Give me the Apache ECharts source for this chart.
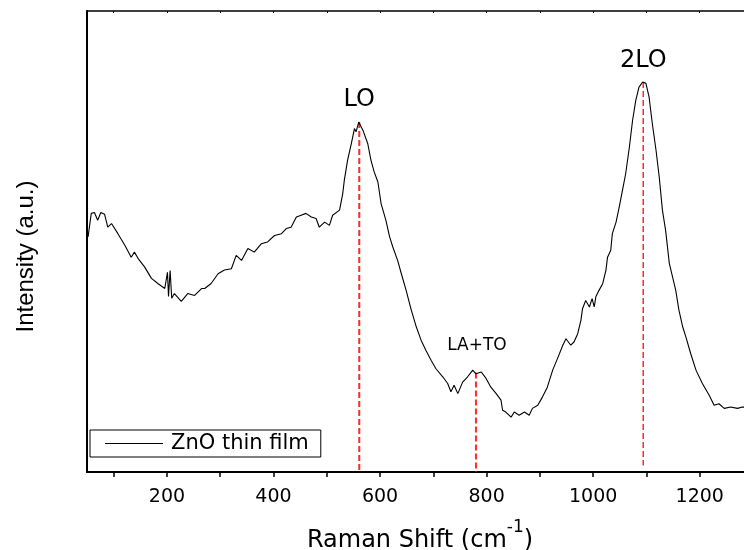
<!DOCTYPE html>
<html>
<head>
<meta charset="utf-8">
<script src="https://cdn.jsdelivr.net/npm/echarts@6/dist/echarts.min.js"></script>
<style>
  html, body { margin: 0; padding: 0; background: #fff; }
  #chart { width: 744px; height: 550px; }
</style>
</head>
<body>
<div id="chart"></div>
<script>
// Raman spectrum of a ZnO thin film (arbitrary intensity units)
const ramanShift = [
  52, 58, 64, 70, 76, 83, 89, 96, 108, 121,
  133, 139, 146, 158, 171, 183, 196, 201, 203, 206,
  209, 214, 227, 239, 252, 265, 271, 283, 296, 308,
  321, 330, 340, 352, 364, 377, 389, 402, 415, 424,
  433, 443, 452, 461, 471, 480, 486, 496, 505, 511,
  514, 524, 530, 533, 539, 546, 552, 555, 560, 568,
  577, 583, 589, 596, 602, 611, 618, 624, 633, 640,
  649, 658, 668, 677, 686, 696, 705, 718, 727, 733,
  739, 746, 755, 764, 774, 780, 790, 799, 808, 818,
  827, 830, 836, 846, 852, 861, 871, 880, 886, 896,
  905, 914, 924, 933, 943, 949, 958, 964, 971, 977,
  980, 986, 993, 998, 1002, 1005, 1011, 1018, 1024, 1027,
  1033, 1036, 1043, 1049, 1055, 1061, 1068, 1074, 1080, 1086,
  1093, 1099, 1105, 1111, 1118, 1124, 1130, 1136, 1143, 1149,
  1155, 1161, 1168, 1174, 1183, 1193, 1205, 1218, 1227, 1236,
  1246, 1258, 1271, 1280, 1300
];
const intensity = [
  51.0, 56.1, 56.3, 54.6, 56.3, 55.9, 53.1, 53.9, 51.7, 49.2,
  46.6, 47.7, 46.3, 44.5, 42.0, 40.9, 39.8, 43.3, 38.1, 43.7,
  37.7, 38.7, 37.0, 38.7, 38.3, 39.8, 39.8, 40.9, 43.0, 43.8,
  44.1, 47.0, 45.9, 48.5, 47.7, 49.5, 49.9, 51.3, 51.7, 52.8,
  53.1, 55.3, 55.7, 56.1, 55.3, 55.0, 53.1, 54.2, 53.5, 55.7,
  56.1, 56.8, 60.4, 63.3, 67.6, 71.2, 74.5, 73.8, 75.9, 74.1,
  71.2, 67.6, 65.1, 62.9, 58.2, 54.6, 51.0, 48.8, 45.9, 43.0,
  39.4, 35.4, 31.5, 28.6, 26.4, 24.2, 22.4, 20.6, 19.2, 17.4,
  18.8, 17.0, 19.5, 20.6, 22.1, 21.3, 21.7, 20.3, 18.4, 17.0,
  15.6, 13.4, 13.0, 11.9, 13.0, 12.3, 13.0, 12.3, 13.8, 14.5,
  16.3, 18.4, 22.1, 24.6, 27.5, 28.9, 27.5, 28.2, 30.0, 32.9,
  35.4, 37.2, 35.8, 37.6, 35.8, 38.0, 39.4, 40.9, 43.8, 46.6,
  48.1, 51.7, 54.2, 57.5, 61.1, 64.7, 70.5, 76.3, 80.6, 83.5,
  84.6, 84.3, 81.3, 75.6, 69.8, 64.0, 56.8, 52.4, 45.2, 42.3,
  39.4, 35.1, 31.5, 29.3, 25.7, 22.1, 19.2, 16.6, 14.5, 14.8,
  13.8, 14.1, 13.8, 14.1, 13.9
];

// Assigned Raman modes
const peakNames = ['LO', 'LA+TO', '2LO'];
const peakShift = [561, 780, 1094];
const peakTop = [75.9, 21.6, 84.6];
const peakFoot = [0, 0, 1.4];

// Axis ticks
const majorTicks = [200, 400, 600, 800, 1000, 1200];
const allTicks = [100, 200, 300, 400, 500, 600, 700, 800, 900, 1000, 1100, 1200, 1300];

// Presentation of each mode label / marker line
const peakLabelStyle = [
  { fontSize: 24, offset: [0, -22], lineWidth: 2 },
  { fontSize: 17, offset: [1, -27], lineWidth: 2 },
  { fontSize: 24, offset: [0, -21], lineWidth: 1.5 }
];

const FONT = 'DejaVu Sans';

const spectrum = ramanShift.map((x, i) => [x, intensity[i]]);

const markerSeries = peakNames.map((name, i) => ({
  name: name,
  type: 'line',
  silent: true,
  symbol: 'none',
  data: [[peakShift[i], peakTop[i]], [peakShift[i], peakFoot[i]]],
  lineStyle: { color: '#ff2a2a', width: peakLabelStyle[i].lineWidth, type: [6, 3] },
  z: 1
}));

const labelSeries = {
  type: 'scatter',
  silent: true,
  symbolSize: 0,
  data: peakNames.map((name, i) => ({
    value: [peakShift[i], peakTop[i]],
    label: {
      show: true,
      position: 'inside',
      formatter: name,
      offset: peakLabelStyle[i].offset,
      fontSize: peakLabelStyle[i].fontSize,
      fontFamily: FONT,
      color: '#000',
      textBorderWidth: 0,
      opacity: 1
    }
  })),
  z: 5
};

const chart = echarts.init(document.getElementById('chart'), null, { renderer: 'canvas' });
chart.setOption({
  animation: false,
  backgroundColor: '#fff',
  grid: { left: 87, right: -9, top: 11, bottom: 78, containLabel: false, outerBoundsMode: 'none' },
  legend: {
    data: [{ name: 'ZnO thin film', icon: 'rect' }],
    left: 90,
    top: 430,
    orient: 'vertical',
    itemWidth: 58,
    itemHeight: 1.2,
    padding: [3, 12, 3, 15],
    borderColor: '#000',
    borderWidth: 1,
    borderRadius: 0,
    itemStyle: { color: '#000' },
    textStyle: { fontSize: 21, fontFamily: FONT, color: '#000', padding: [0, 0, 0, 3] }
  },
  xAxis: [
    {
      type: 'value',
      position: 'bottom',
      min: 50,
      max: 1300,
      splitLine: { show: false },
      axisLine: { show: true, onZero: false, lineStyle: { color: '#000', width: 2 } },
      axisTick: { show: true, customValues: allTicks, length: 5, lineStyle: { color: '#000', width: 1.5 } },
      axisLabel: {
        customValues: majorTicks,
        formatter: (v) => String(v),
        fontSize: 19,
        fontFamily: FONT,
        color: '#000',
        margin: 16
      },
      name: 'Raman Shift (cm{sup|-1})',
      nameLocation: 'middle',
      nameGap: 47,
      nameTextStyle: {
        fontSize: 24,
        fontFamily: FONT,
        color: '#000',
        lineHeight: 44,
        rich: {
          sup: { fontSize: 17, fontFamily: FONT, color: '#000', lineHeight: 17, verticalAlign: 'top' }
        }
      }
    },
    {
      type: 'value',
      position: 'top',
      min: 50,
      max: 1300,
      splitLine: { show: false },
      axisLine: { show: true, onZero: false, lineStyle: { color: '#000', width: 1.5 } },
      axisTick: { show: true, inside: true, customValues: allTicks, length: 2, lineStyle: { color: '#000', width: 1 } },
      axisLabel: { show: false }
    }
  ],
  yAxis: [
    {
      type: 'value',
      min: 0,
      max: 100,
      splitLine: { show: false },
      axisLine: { show: true, onZero: false, lineStyle: { color: '#000', width: 2 } },
      axisTick: { show: false },
      axisLabel: { show: false },
      name: 'Intensity (a.u.)',
      nameLocation: 'middle',
      nameRotate: 90,
      nameGap: 49,
      nameTextStyle: { fontSize: 24, fontFamily: 'Liberation Sans', color: '#000', padding: [0, 30, 0, 0] }
    }
  ],
  series: [
    {
      name: 'ZnO thin film',
      type: 'line',
      symbol: 'none',
      data: spectrum,
      lineStyle: { color: '#000', width: 1.1 },
      itemStyle: { color: '#000' },
      z: 3
    },
    ...markerSeries,
    labelSeries
  ]
});
</script>
</body>
</html>
